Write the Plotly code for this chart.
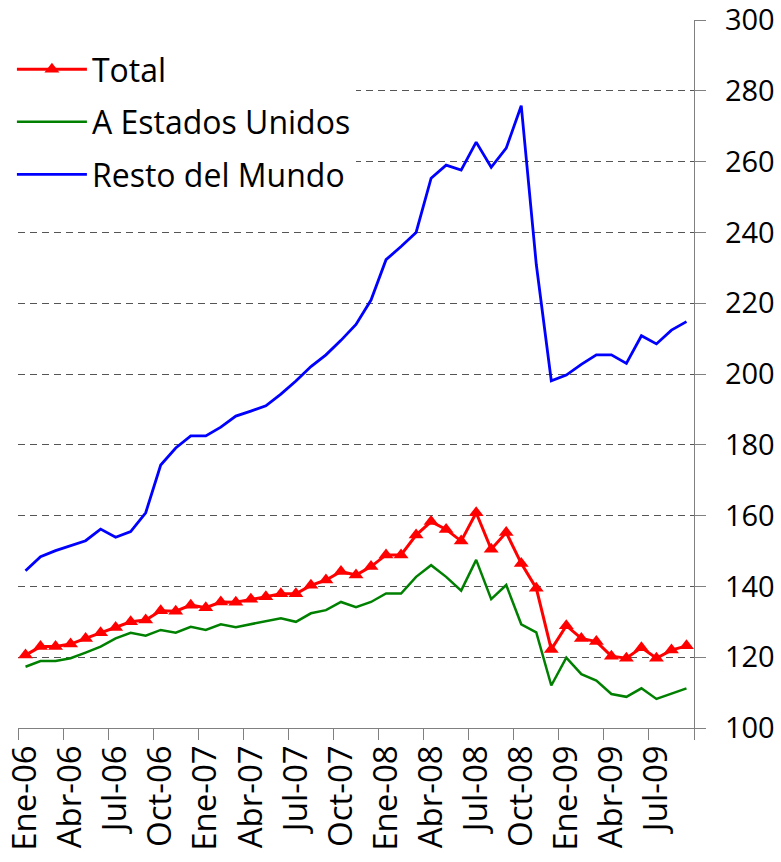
import plotly.graph_objects as go

months = ["Ene", "Feb", "Mar", "Abr", "May", "Jun", "Jul", "Ago", "Sep", "Oct", "Nov", "Dic"]
years = ["06", "07", "08", "09"]
categories = [f"{m}-{y}" for y in years for m in months][:45]  # Ene-06 .. Sep-09

total = [120.6, 123.0, 123.0, 123.7, 125.3, 126.9, 128.4, 130.0, 130.5, 133.1,
         133.0, 134.7, 134.0, 135.6, 135.5, 136.4, 137.1, 137.9, 137.9, 140.3,
         141.8, 144.2, 143.2, 145.6, 148.9, 148.9, 154.5, 158.3, 156.1, 152.8,
         160.8, 150.5, 155.2, 146.5, 139.5, 122.2, 128.9, 125.3, 124.4, 120.3,
         119.7, 122.7, 119.7, 122.0, 123.2]
estados_unidos = [117.3, 118.9, 118.9, 119.7, 121.3, 123.0, 125.3, 126.9, 126.1, 127.7,
                  126.9, 128.6, 127.7, 129.3, 128.5, 129.4, 130.1, 131.0, 130.0, 132.4,
                  133.3, 135.6, 134.1, 135.6, 138.0, 138.0, 142.7, 146.0, 142.7, 138.8,
                  147.5, 136.4, 140.4, 129.3, 127.0, 112.0, 119.9, 115.2, 113.4, 109.6,
                  108.8, 111.2, 108.2, 109.8, 111.2]
resto_mundo = [144.4, 148.4, 150.1, 151.4, 152.9, 156.2, 153.9, 155.5, 160.8, 174.3,
               179.1, 182.5, 182.5, 185.0, 188.1, 189.5, 191.0, 194.3, 198.0, 202.1,
               205.4, 209.5, 214.0, 220.9, 232.3, 236.0, 240.0, 255.3, 259.0, 257.6,
               265.5, 258.4, 263.8, 275.8, 231.0, 198.1, 199.7, 202.7, 205.4, 205.4,
               203.0, 210.8, 208.5, 212.4, 214.8]

y_ticks = [100, 120, 140, 160, 180, 200, 220, 240, 260, 280, 300]

x = list(range(len(categories)))
label_idx = [i for i, c in enumerate(categories) if c.split("-")[0] in ("Ene", "Abr", "Jul", "Oct")]

FONT = "Open Sans"

fig = go.Figure()
fig.add_trace(go.Scatter(
    x=x, y=total, name="Total", mode="lines+markers", legendgroup="a",
    line=dict(color="#FF0000", width=3),
    marker=dict(symbol="triangle-up", size=13, color="#FF0000"),
))
fig.add_trace(go.Scatter(
    x=x, y=estados_unidos, name="A Estados Unidos", mode="lines", legendgroup="b",
    line=dict(color="#008000", width=2.5),
))
fig.add_trace(go.Scatter(
    x=x, y=resto_mundo, name="Resto del Mundo", mode="lines", legendgroup="c",
    line=dict(color="#0000FF", width=2.8),
))

fig.update_layout(
    width=781, height=862,
    margin=dict(l=18, r=87, t=20, b=134, autoexpand=False),
    paper_bgcolor="white", plot_bgcolor="white",
    font=dict(family=FONT, size=30, color="black"),
    showlegend=True,
    legend=dict(
        x=-0.009, y=0.969, xanchor="left", yanchor="top",
        bgcolor="white", borderwidth=0,
        font=dict(family=FONT, size=32, color="black"),
        itemwidth=70, tracegroupgap=8, traceorder="grouped",
    ),
    xaxis=dict(
        range=[-0.5, len(categories) - 0.5],
        tickmode="array", tickvals=label_idx,
        ticktext=[categories[i] for i in label_idx],
        tickangle=-90, ticks="outside", ticklen=0, tickcolor="rgba(0,0,0,0)",
        ticklabelstandoff=3, ticklabeloverflow="allow",
        tickfont=dict(family=FONT, size=33, color="black"),
        showline=True, linecolor="#808080", linewidth=1.3,
        showgrid=False, zeroline=False,
        minor=dict(tick0=-0.5, dtick=3, ticks="outside", ticklen=11,
                   tickcolor="#808080", tickwidth=1.3, showgrid=False),
    ),
    yaxis=dict(
        side="right", range=[100, 300],
        tickmode="array", tickvals=y_ticks,
        ticks="outside", ticklen=11, tickcolor="#808080", tickwidth=1.3,
        ticklabelstandoff=13, ticklabeloverflow="allow",
        tickfont=dict(family=FONT, size=29, color="black"),
        showline=True, linecolor="#808080", linewidth=1.3,
        showgrid=True, gridcolor="#555555", gridwidth=1, griddash="7px,5px",
        zeroline=False,
    ),
)

fig.write_html(
    "out.html",
    config={"displayModeBar": False},
    post_script="document.body.style.margin='0';document.body.style.overflow='hidden';",
)
